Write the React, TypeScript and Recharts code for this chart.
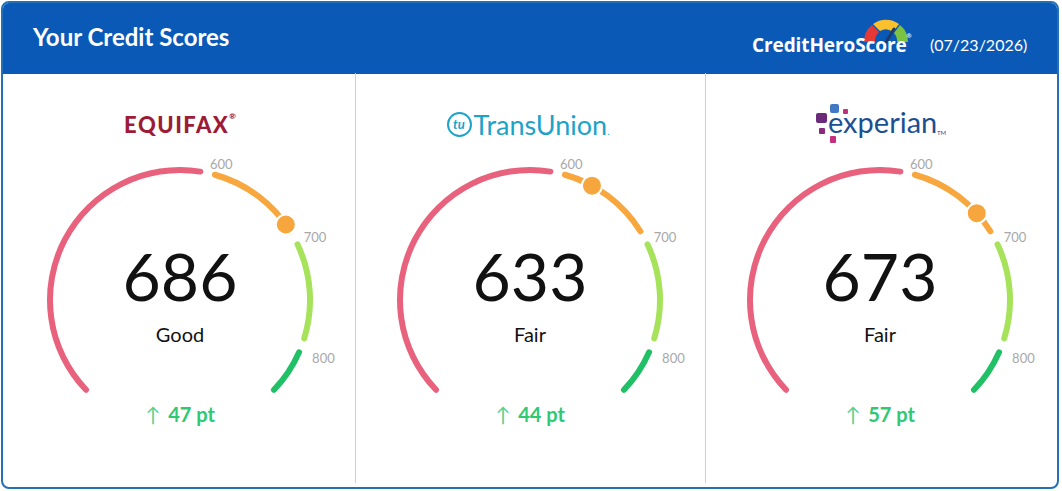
import React from 'react';
import { PieChart, Pie, Cell } from 'recharts';

// score data per bureau
const bureaus = ['Equifax', 'TransUnion', 'Experian'];
const scores = [686, 633, 673];
const ratings = ['Good', 'Fair', 'Fair'];
const changes = [47, 44, 57];

// gauge scale
const scoreMin = 300;
const scoreMax = 850;
const bandEdges = [300, 600, 700, 800, 850];
const bandColors = ['#e8627d', '#f8a73f', '#a6e35b', '#20c066'];
const tickLabels = ['600', '700', '800'];
const reportDate = '07/23/2026';

const GAP = 8; // points of score left blank between bands
const RAD = Math.PI / 180;

// pie table: band, gap, band, gap ...
const bandData: { value: number; fill: string; tick?: string }[] = [];
for (let i = 0; i < bandColors.length; i++) {
  const from = bandEdges[i] + (i > 0 ? GAP / 2 : 0);
  const to = bandEdges[i + 1] - (i < bandColors.length - 1 ? GAP / 2 : 0);
  bandData.push({ value: to - from, fill: bandColors[i] });
  if (i < tickLabels.length) bandData.push({ value: GAP, fill: 'none', tick: tickLabels[i] });
}

const CHART = 320;
const R = 130;

const renderTick = (p: any) => {
  if (!p.payload || !p.payload.tick) return null;
  const a = p.midAngle * RAD;
  const r = 141;
  const x = p.cx + r * Math.cos(a);
  const y = p.cy - r * Math.sin(a) + 2 + 5 * (1 - Math.sin(a));
  return (
    <text x={x} y={y} textAnchor="start" dominantBaseline="central" fill="#a8a8a8" fontSize={13} fontFamily="Lato, sans-serif">
      {p.payload.tick}
    </text>
  );
};

const renderDot = (p: any) => {
  if (p.index !== 0) return null;
  const a = p.endAngle * RAD;
  const x = p.cx + R * Math.cos(a);
  const y = p.cy - R * Math.sin(a);
  return <circle cx={x} cy={y} r={10} fill="#f6a63d" stroke="#fff" strokeWidth={2} />;
};

function Gauge({ score }: { score: number }) {
  const dotData = [{ value: score - scoreMin }, { value: scoreMax - score }];
  return (
    <PieChart width={CHART} height={CHART}>
      <Pie
        data={bandData}
        dataKey="value"
        cx="50%"
        cy="50%"
        startAngle={225}
        endAngle={-45}
        innerRadius={R - 3}
        outerRadius={R + 3}
        cornerRadius={3}
        stroke="none"
        label={renderTick}
        labelLine={false}
        isAnimationActive={false}
      >
        {bandData.map((d, i) => (
          <Cell key={i} fill={d.fill} />
        ))}
      </Pie>
      <Pie
        data={dotData}
        dataKey="value"
        cx="50%"
        cy="50%"
        startAngle={225}
        endAngle={-45}
        innerRadius={R - 3}
        outerRadius={R + 3}
        stroke="none"
        label={renderDot}
        labelLine={false}
        isAnimationActive={false}
      >
        {dotData.map((_, i) => (
          <Cell key={i} fill="none" />
        ))}
      </Pie>
    </PieChart>
  );
}

function Logo({ name }: { name: string }) {
  if (name === 'Equifax') {
    return (
      <div style={{ color: '#9c1c37', fontFamily: 'Lato, sans-serif', fontWeight: 900, fontSize: 22, letterSpacing: 1.5 }}>
        EQUIFAX<span style={{ fontSize: 8, verticalAlign: 'top', letterSpacing: 0 }}>®</span>
      </div>
    );
  }
  if (name === 'TransUnion') {
    return (
      <div style={{ display: 'flex', alignItems: 'center', color: '#1ca3c8', fontFamily: 'Lato, sans-serif', marginLeft: -4 }}>
        <div
          style={{
            width: 21,
            height: 21,
            borderRadius: '50%',
            border: '2.5px solid #1ca3c8',
            fontSize: 13,
            fontStyle: 'italic',
            fontWeight: 700,
            display: 'flex',
            alignItems: 'center',
            justifyContent: 'center',
            marginRight: 2,
          }}
        >
          tu
        </div>
        <span style={{ fontSize: 27 }}>TransUnion</span>
        <span style={{ fontSize: 10, alignSelf: 'flex-end', marginBottom: 4 }}>.</span>
      </div>
    );
  }
  return (
    <div style={{ position: 'relative', width: 128, height: 40, fontFamily: 'Lato, sans-serif' }}>
      <svg width={36} height={42} style={{ position: 'absolute', left: 0, top: 0 }}>
        <rect x={14} y={0} width={9} height={9} rx={2} fill="#3f79c4" />
        <rect x={27} y={5} width={5} height={5} rx={1} fill="#c2307b" />
        <rect x={0} y={9} width={11} height={10} rx={2} fill="#6b2a7a" />
        <rect x={3} y={24} width={6} height={6} rx={1} fill="#8a2a7e" />
        <rect x={14} y={32} width={6} height={7} rx={1} fill="#c4307c" />
      </svg>
      <span style={{ position: 'absolute', left: 12, top: 0, color: '#1c4f91', fontSize: 29, lineHeight: '35px' }}>experian</span>
      <span style={{ position: 'absolute', left: 121, top: 26, color: '#1c4f91', fontSize: 6, lineHeight: '6px' }}>TM</span>
    </div>
  );
}

const centers = [180, 530, 880];

export default function App() {
  return (
    <div style={{ position: 'absolute', left: 0, top: 0, width: 1062, height: 491, background: '#fff', fontFamily: 'Lato, sans-serif' }}>
      <div
        style={{
          position: 'absolute',
          left: 1,
          top: 1,
          width: 1058,
          height: 488,
          boxSizing: 'border-box',
          border: '2px solid #2470b5',
          borderRadius: 8,
          overflow: 'hidden',
        }}
      >
        <div style={{ position: 'absolute', left: 0, top: 0, width: '100%', height: 71, background: '#0b59b7' }} />
      </div>

      {/* header */}
      <div style={{ position: 'absolute', left: 33, top: 22, color: '#fff', fontSize: 24, fontWeight: 700 }}>Your Credit Scores</div>
      <svg width={50} height={26} style={{ position: 'absolute', left: 861, top: 17 }}>
        <path d="M3 25 A22 22 0 0 1 11 8 L18 15 A12 12 0 0 0 14 25 Z" fill="#e53935" />
        <path d="M12 7 A22 22 0 0 1 38 7 L32 15 A12 12 0 0 0 19 14 Z" fill="#fbc02d" />
        <path d="M39 8 A22 22 0 0 1 47 25 L36 25 A12 12 0 0 0 33 16 Z" fill="#7cc242" />
        <path d="M25 25 L33 12" stroke="#1b3a6b" strokeWidth={3} strokeLinecap="round" />
      </svg>
      <div style={{ position: 'absolute', left: 752, top: 32, color: '#fff', fontSize: 19, fontWeight: 700, fontFamily: '"Open Sans", sans-serif', letterSpacing: -0.1 }}>
        CreditHeroScore<span style={{ fontSize: 6, verticalAlign: 'top' }}>®</span>
      </div>
      <div style={{ position: 'absolute', left: 930, top: 35, color: '#fff', fontSize: 16 }}>({reportDate})</div>

      {/* dividers */}
      <div style={{ position: 'absolute', left: 355, top: 73, width: 1, height: 410, background: '#cfcfcf' }} />
      <div style={{ position: 'absolute', left: 705, top: 73, width: 1, height: 410, background: '#cfcfcf' }} />

      {bureaus.map((b, i) => {
        const cx = centers[i];
        return (
          <React.Fragment key={b}>
            <div style={{ position: 'absolute', left: cx - 175, width: 350, top: 104, height: 40, display: 'flex', justifyContent: 'center', alignItems: 'center' }}>
              <Logo name={b} />
            </div>
            <div style={{ position: 'absolute', left: cx - CHART / 2, top: 300 - CHART / 2 }}>
              <Gauge score={scores[i]} />
            </div>
            <div style={{ position: 'absolute', left: cx - 100, width: 200, top: 236, textAlign: 'center', fontSize: 66, lineHeight: '80px', color: '#111' }}>
              {scores[i]}
            </div>
            <div style={{ position: 'absolute', left: cx - 100, width: 200, top: 322, textAlign: 'center', fontSize: 20, lineHeight: '24px', color: '#111' }}>
              {ratings[i]}
            </div>
            <div style={{ position: 'absolute', left: cx - 100, width: 200, top: 402, textAlign: 'center', fontSize: 20, lineHeight: '24px', color: '#2fc873', fontWeight: 700 }}>
              <span style={{ fontWeight: 400, color: '#57d18f', marginRight: 8 }}>↑</span>
              {changes[i]} pt
            </div>
          </React.Fragment>
        );
      })}
    </div>
  );
}
